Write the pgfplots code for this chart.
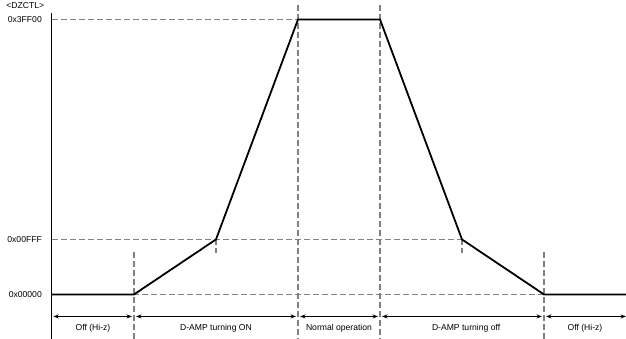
\documentclass[border=0pt]{standalone}
\usepackage{pgfplots}
\pgfplotsset{compat=1.18}
\usepackage{fontspec}
\setmainfont{Liberation Sans}
\usetikzlibrary{arrows.meta}
\definecolor{dgray}{RGB}{128,128,128}
\tikzset{
  dashline/.style={dgray, line width=1.4pt, dash pattern=on 6pt off 3pt},
  dim/.style={black, line width=0.9pt, {Stealth[length=5.5pt,width=4pt]}-{Stealth[length=5.5pt,width=4pt]}},
  lab/.style={font=\fontsize{8.6}{10}\selectfont, inner sep=0pt},
}
\begin{document}
\begin{tikzpicture}
\begin{axis}[
  at={(0,0)}, anchor=south west,
  scale only axis, width=574pt, height=325.6pt,
  xmin=0, xmax=7, ymin=-0.81, ymax=5.11,
  clip=false,
  axis x line=none, axis y line*=left,
  y axis line style={line width=1pt, black},
  ytick={0,1,5}, yticklabels={0x00000,0x00FFF,0x3FF00},
  major tick length=0pt,
  yticklabel style={font=\fontsize{8.6}{10}\selectfont, anchor=east, inner sep=0pt, xshift=-10pt},
]
% horizontal reference lines
\addplot[dashline] coordinates {(0,5) (3,5)};
\addplot[dashline] coordinates {(0,1) (5,1)};
\addplot[dashline] coordinates {(0,0) (6,0)};
% vertical reference lines
\addplot[dashline] coordinates {(1,0.77) (1,-0.81)};
\addplot[dashline] coordinates {(2,1) (2,0.75)};
\addplot[dashline] coordinates {(3,5.26) (3,-0.81)};
\addplot[dashline] coordinates {(4,5.26) (4,-0.81)};
\addplot[dashline] coordinates {(5,1) (5,0.75)};
\addplot[dashline] coordinates {(6,0.77) (6,-0.81)};
% DZCTL waveform
\addplot[black, line width=1.8pt, line join=miter] coordinates {(0,0) (1,0) (2,1) (3,5) (4,5) (5,1) (6,0) (7,0)};
% phase arrows
\addplot[dim] coordinates {(0.016,-0.4) (0.975,-0.4)};
\addplot[dim] coordinates {(1.025,-0.4) (2.975,-0.4)};
\addplot[dim] coordinates {(3.025,-0.4) (3.975,-0.4)};
\addplot[dim] coordinates {(4.025,-0.4) (5.975,-0.4)};
\addplot[dim] coordinates {(6.025,-0.4) (7,-0.4)};
\node[lab] at (axis cs:0.5,-0.615) {Off (Hi-z)};
\node[lab] at (axis cs:2,-0.615) {D-AMP turning ON};
\node[lab] at (axis cs:3.5,-0.615) {Normal operation};
\node[lab] at (axis cs:5.05,-0.615) {D-AMP turning off};
\node[lab] at (axis cs:6.5,-0.615) {Off (Hi-z)};
\node[lab] at (axis cs:-0.326,5.255) {<DZCTL>};
\end{axis}
\pgfresetboundingbox
\path[use as bounding box] (-52pt,0pt) rectangle (574pt,339pt);
\end{tikzpicture}
\end{document}
